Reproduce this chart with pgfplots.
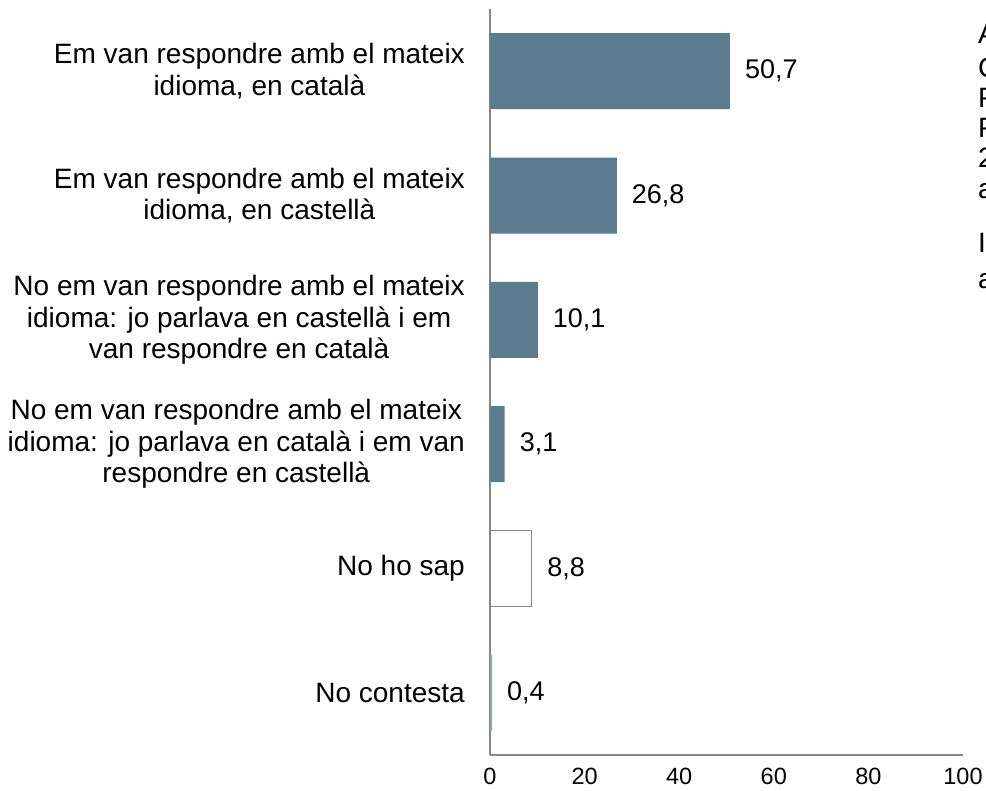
\documentclass[border=0pt]{standalone}
\usepackage{pgfplots}
\pgfplotsset{compat=1.18}
\usepackage{fontspec}
\setmainfont{Liberation Sans}
\definecolor{barblue}{HTML}{5B7B8E}
\definecolor{axgray}{HTML}{868686}
\begin{document}
\begin{tikzpicture}
\useasboundingbox (-490bp,-36bp) rectangle (496bp,755bp);
\begin{axis}[
  at={(0,0)}, anchor=south west,
  scale only axis, width=473bp, height=746bp,
  xmin=0, xmax=100, ymin=-0.5, ymax=5.5, y dir=reverse,
  xbar, bar width=76bp, bar shift=0pt,
  axis x line*=bottom, axis y line*=left,
  axis line style={axgray, line width=1.5bp},
  xtick={0,20,...,100}, ytick={0,...,5},
  major tick length=0pt,
  /pgf/number format/assume math mode=true,
  xticklabel style={font=\fontsize{23.5bp}{26bp}\selectfont, inner sep=0pt, yshift=-13bp},
  yticklabel style={font=\fontsize{28bp}{31.5bp}\selectfont, align=center, inner sep=0pt, xshift=-25bp},
  yticklabels={{Em van respondre amb el mateix\\idioma, en català},
               {Em van respondre amb el mateix\\idioma, en castellà},
               {No em van respondre amb el mateix\\idioma: jo parlava en castellà i em\\van respondre en català},
               {No em van respondre amb el mateix\\idioma: jo parlava en català i em van\\respondre en castellà},
               {No ho sap},
               {No contesta}},
  nodes near coords,
  nodes near coords style={font=\fontsize{27bp}{30bp}\selectfont, anchor=west, inner sep=0pt, xshift=15bp,
    /pgf/number format/.cd, use comma, fixed, fixed zerofill, precision=1, assume math mode=true},
  clip=false,
]
\addplot[fill=barblue, draw=none] coordinates {(50.7,0) (26.8,1) (10.1,2) (3.1,3)};
\addplot[fill=white, draw=axgray, line width=1.5bp] coordinates {(8.8,4)};
\addplot[fill=barblue!70, draw=none] coordinates {(0.4,5)};
\end{axis}
\begin{scope}[font=\fontsize{28bp}{31.5bp}\selectfont]
\node[anchor=base west, inner sep=0pt] at (488bp,711bp) {Al};
\node[anchor=base west, inner sep=0pt] at (488bp,677bp) {Com};
\node[anchor=base west, inner sep=0pt] at (488bp,647bp) {Per};
\node[anchor=base west, inner sep=0pt] at (488bp,617bp) {Pel};
\node[anchor=base west, inner sep=0pt] at (488bp,587bp) {2};
\node[anchor=base west, inner sep=0pt] at (488bp,556bp) {a};
\node[anchor=base west, inner sep=0pt] at (488bp,502bp) {I};
\node[anchor=base west, inner sep=0pt] at (488bp,466bp) {a};
\end{scope}
\end{tikzpicture}
\end{document}
